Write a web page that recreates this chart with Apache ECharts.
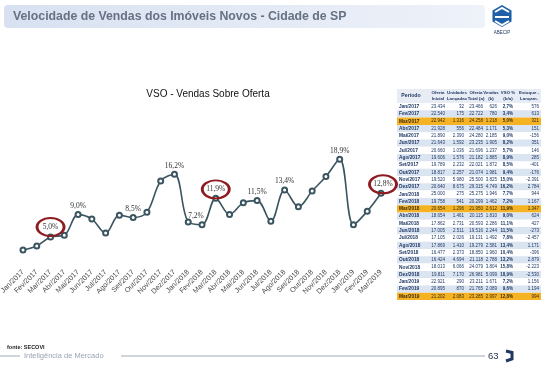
<!DOCTYPE html>
<html><head><meta charset="utf-8">
<script src="https://cdn.jsdelivr.net/npm/echarts@6/dist/echarts.min.js"></script>
<style>html,body{margin:0;padding:0;background:#fff}#c{width:544px;height:369px}</style>
</head><body><div id="c"></div>
<script>
// ---- data ----
const months = ['Jan/2017','Fev/2017','Mar/2017','Abr/2017','Mai/2017','Jun/2017','Jul/2017','Ago/2017','Set/2017','Out/2017','Nov/2017','Dez/2017','Jan/2018','Fev/2018','Mar/2018','Abr/2018','Mai/2018','Jun/2018','Jul/2018','Ago/2018','Set/2018','Out/2018','Nov/2018','Dez/2018','Jan/2019','Fev/2019','Mar/2019'];
const vso = [2.7, 3.4, 5.0, 5.3, 9.0, 8.2, 5.7, 8.9, 8.5, 9.4, 15.0, 16.2, 7.7, 7.2, 11.9, 9.0, 11.1, 11.5, 7.8, 13.4, 10.4, 13.2, 15.8, 18.9, 7.2, 9.6, 12.8];
const ofertaInicial = [23434, 22540, 22942, 21928, 21890, 21643, 20660, 19606, 19789, 18817, 19520, 20640, 25000, 19758, 20654, 18654, 17862, 17005, 17105, 17869, 16477, 16424, 18013, 19811, 22921, 20895, 21202];
const lancadas = [32, 175, 1316, 556, 2390, 1592, 1036, 1576, 2232, 2257, 5980, 8675, 275, 541, 1296, 1461, 2731, 2511, 2026, 1410, 2373, 4694, 6066, 7170, 290, 870, 2083];
const ofertaTotal = [23466, 22722, 24258, 22484, 24280, 23235, 21696, 21182, 22021, 21074, 25500, 29315, 25275, 20299, 21950, 20115, 20593, 19516, 19131, 19279, 18850, 21118, 24079, 26981, 23211, 21765, 23285];
const vendas = [626, 780, 1218, 1171, 2185, 1905, 1237, 1885, 1872, 1981, 3825, 4749, 1946, 1462, 2612, 1810, 2286, 2244, 1492, 2581, 1960, 2788, 3804, 5099, 1671, 2089, 2997];
const estoque = [576, 613, 321, 151, -156, 351, 146, 285, -401, -176, -2391, 2784, 944, 1167, 1347, 624, 427, -273, -2457, 1171, -396, 2879, -2223, -2530, 1156, 1194, 994];
const headers = ['Período', 'Oferta\nInicial', 'Unidades\nLançadas', 'Oferta\nTotal (a)', 'Vendas\n(b)', 'VSO %\n(b/a)', 'Estoque -\nLançam.'];
const highlightRows = ['Mar/2017', 'Mar/2018', 'Mar/2019'];
const labelledMonths = ['Mai/2017', 'Set/2017', 'Dez/2017', 'Fev/2018', 'Jun/2018', 'Ago/2018', 'Dez/2018'];
const circledMonths = ['Mar/2017', 'Mar/2018', 'Mar/2019'];
const slideTitle = 'Velocidade de Vendas dos Imóveis Novos - Cidade de SP';
const chartTitle = 'VSO - Vendas Sobre Oferta';
const sourceText = 'fonte: SECOVI';
const footerText = 'Inteligência de Mercado';
const pageNumber = '63';

// ---- helpers ----
const pct = v => v.toFixed(1).replace('.', ',') + '%';
const br = n => (n < 0 ? '-' : '') + Math.abs(n).toString().replace(/\B(?=(\d{3})+(?!\d))/g, '.');

const chart = echarts.init(document.getElementById('c'), null, {renderer: 'canvas'});

// label layout tweaks (style only)
const labelOffsets = {'Fev/2018': [-6, 0]};
const circleOffsets = {'Mar/2017': [0, -10], 'Mar/2018': [0, -9], 'Mar/2019': [2, -9]};

const seriesData = vso.map((v, i) => {
  const m = months[i];
  const item = {value: v};
  if (labelledMonths.includes(m)) {
    item.label = {show: true, position: 'top', distance: 1, offset: labelOffsets[m] || [0, 0]};
  }
  return item;
});

// ---- table graphics ----
const g = [];
const tX0 = 397, tX1 = 541, hTop = 89, hH = 14, rowH = 7.3;
const colX = [399, 445, 464, 483, 497, 513, 539];
const headX = [411, 438, 457, 476, 491, 508, 529];
const navy = '#1f3864';
const narrow = '"Liberation Sans Narrow", "Liberation Sans"';
g.push({type: 'rect', shape: {x: tX0, y: hTop, width: tX1 - tX0, height: hH}, style: {fill: '#e8edf5'}});
headers.forEach((h, j) => {
  g.push({type: 'text', x: headX[j], y: hTop + hH / 2, style: {text: h, fill: navy, fontSize: j === 0 ? 5.2 : 4.4, fontWeight: 'bold', fontFamily: narrow, align: 'center', verticalAlign: 'middle', lineHeight: 5.8}});
});
months.forEach((m, i) => {
  const y = hTop + hH + i * rowH;
  const hl = highlightRows.includes(m);
  const fill = hl ? '#f5b324' : (i % 2 === 1 ? '#dbe4f1' : '#ffffff');
  g.push({type: 'rect', shape: {x: tX0, y: y, width: tX1 - tX0, height: rowH}, style: {fill: fill}});
  const cells = [m, br(ofertaInicial[i]), br(lancadas[i]), br(ofertaTotal[i]), br(vendas[i]), pct(vso[i]), br(estoque[i])];
  cells.forEach((t, j) => {
    g.push({type: 'text', x: colX[j], y: y + rowH / 2, style: {text: t, fill: hl ? '#3a2a10' : navy, fontSize: j === 0 ? 4.8 : 4.5, fontWeight: j === 0 || j === 5 ? 'bold' : 'normal', fontFamily: narrow, align: j === 0 ? 'left' : 'right', verticalAlign: 'middle'}});
  });
});

// ---- banner, logo, footer ----
g.unshift({type: 'rect', shape: {x: 4, y: 5, width: 481, height: 23, r: 4}, style: {fill: new echarts.graphic.LinearGradient(0, 0, 1, 0, [{offset: 0, color: '#d8e1f1'}, {offset: 1, color: '#eef2f9'}])}});
g.push({type: 'text', x: 13, y: 16.5, style: {text: slideTitle, fill: '#667183', fontSize: 12.3, fontWeight: 'bold', fontFamily: 'Liberation Sans', verticalAlign: 'middle'}});
// logo
const hex = [];
for (let k = 0; k < 6; k++) { const a = Math.PI / 6 + k * Math.PI / 3; hex.push([502 + 11 * Math.cos(a), 16 + 11 * Math.sin(a)]); }
g.push({type: 'polygon', shape: {points: hex}, style: {fill: '#1f5fa8'}});
g.push({type: 'polyline', shape: {points: [[495, 12], [502, 8], [509, 12]]}, style: {stroke: '#fff', lineWidth: 2, fill: null}});
g.push({type: 'polyline', shape: {points: [[495, 17], [509, 17]]}, style: {stroke: '#fff', lineWidth: 2, fill: null}});
g.push({type: 'polyline', shape: {points: [[495, 21], [502, 25], [509, 21]]}, style: {stroke: '#fff', lineWidth: 2, fill: null}});
g.push({type: 'text', x: 502, y: 33, style: {text: 'ABECIP', fill: '#1f3864', fontSize: 4.5, fontFamily: 'Liberation Sans', align: 'center', verticalAlign: 'middle'}});
// footer
g.push({type: 'text', x: 7, y: 347, style: {text: sourceText, fill: '#222', fontSize: 5.5, fontWeight: 'bold', fontFamily: 'Liberation Sans', verticalAlign: 'middle'}});
g.push({type: 'line', shape: {x1: 0, y1: 356, x2: 20, y2: 356}, style: {stroke: '#8c96a4', lineWidth: 0.8}});
g.push({type: 'text', x: 24, y: 356, style: {text: footerText, fill: '#9aa4b2', fontSize: 7.5, fontFamily: 'Liberation Sans', verticalAlign: 'middle'}});
g.push({type: 'line', shape: {x1: 121, y1: 356, x2: 485, y2: 356}, style: {stroke: '#8c96a4', lineWidth: 0.8}});
g.push({type: 'text', x: 488, y: 356, style: {text: pageNumber, fill: '#1f2f4a', fontSize: 9.5, fontFamily: 'Liberation Sans', verticalAlign: 'middle'}});
g.push({type: 'polyline', shape: {points: [[506, 351], [512, 352.5], [512, 359], [506, 361]]}, style: {stroke: '#1f3864', lineWidth: 3, fill: null}});

const option = {
  backgroundColor: '#ffffff',
  animation: false,
  title: {text: chartTitle, left: 203, top: 84, textAlign: 'center', textStyle: {fontSize: 10, fontWeight: 'normal', color: '#111', fontFamily: 'Liberation Sans'}},
  grid: {left: 23, right: 163, top: 153, bottom: 104, outerBoundsMode: 'none'},
  xAxis: {
    type: 'category', data: months, boundaryGap: false,
    axisLine: {show: false}, axisTick: {show: false},
    axisLabel: {rotate: 45, interval: 0, margin: 6, fontSize: 7.2, color: '#4a4a4a', fontFamily: 'Liberation Sans'}
  },
  yAxis: {type: 'value', min: 0, max: 20, show: false, splitLine: {show: false}},
  series: [{
    type: 'line', data: seriesData, smooth: 0.35,
    symbol: 'emptyCircle', symbolSize: 5,
    lineStyle: {color: '#3a5560', width: 1.6},
    itemStyle: {color: '#3a5560', borderWidth: 1},
    label: {show: false, formatter: p => pct(p.value), fontSize: 7.5, color: '#333', fontFamily: 'Liberation Serif'},
    markPoint: {
      symbol: 'circle', symbolSize: [27, 18], silent: true,
      itemStyle: {color: 'rgba(255,255,255,0)', borderColor: '#8e1b1f', borderWidth: 2.4},
      label: {show: true, position: 'inside', formatter: p => pct(p.value), fontSize: 7.5, color: '#333', fontFamily: 'Liberation Serif'},
      data: circledMonths.map(m => {
        const i = months.indexOf(m);
        return {coord: [m, vso[i]], value: vso[i], symbolOffset: circleOffsets[m]};
      })
    }
  }],
  graphic: {elements: g}
};
chart.setOption(option);
</script>
</body></html>
